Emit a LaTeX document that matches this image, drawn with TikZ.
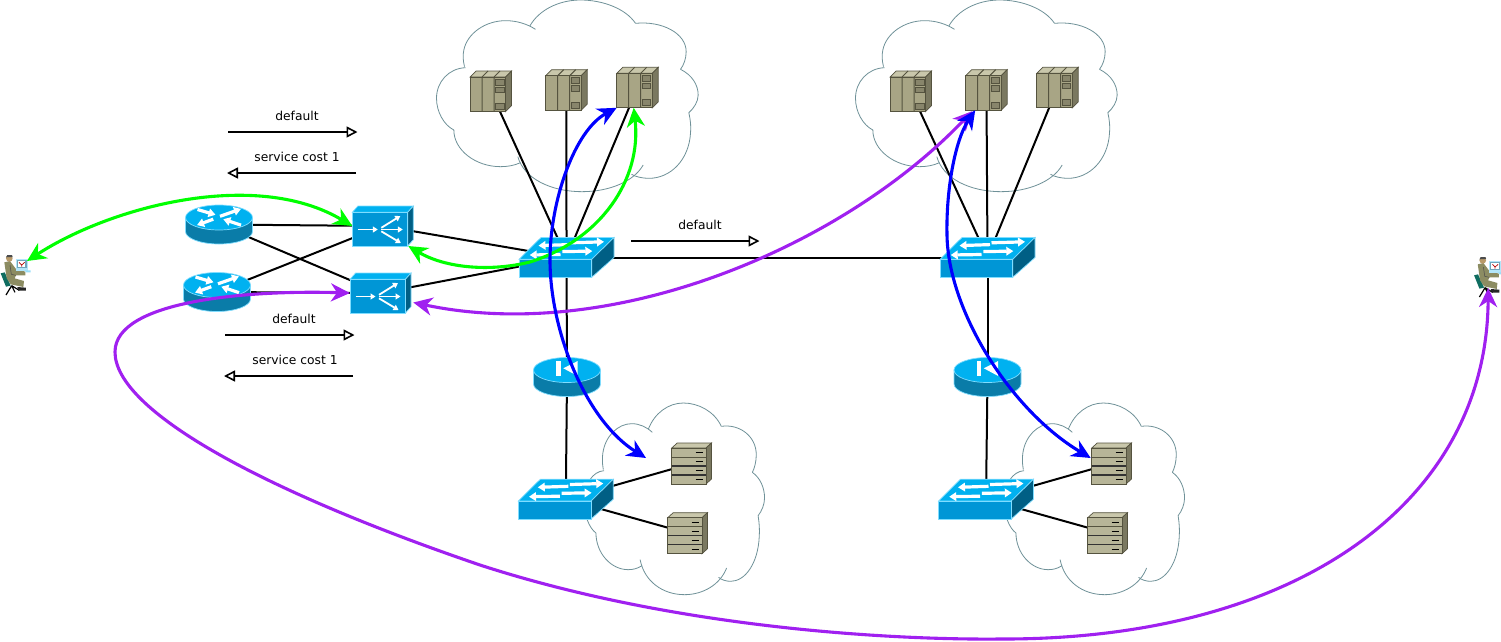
\documentclass[tikz,border=0pt]{standalone}
\usepackage{fontspec}
\setmainfont{DejaVu Sans}
\usetikzlibrary{arrows.meta}
\pgfdeclarelayer{cloudlayer}
\pgfdeclarelayer{linklayer}
\pgfdeclarelayer{curvelayer}
\pgfsetlayers{cloudlayer,linklayer,main,curvelayer}

\definecolor{cloudline}{HTML}{6F9198}
\definecolor{ciscotop}{HTML}{00B1F0}
\definecolor{ciscofront}{HTML}{0096D6}
\definecolor{ciscoside}{HTML}{005F85}
\definecolor{ciscobody}{HTML}{0A7CA8}
\definecolor{ciscorim}{HTML}{7FDDFF}
\definecolor{plcfront}{HTML}{A8A585}
\definecolor{plctop}{HTML}{C9C7AB}
\definecolor{plcside}{HTML}{7A7860}
\definecolor{plcline}{HTML}{55533F}
\definecolor{srvfront}{HTML}{B7B598}
\definecolor{coat}{HTML}{8C8C62}
\definecolor{skin}{HTML}{B89A6A}
\definecolor{chair}{HTML}{0F6D60}
\definecolor{trafficgreen}{HTML}{00FF00}
\definecolor{trafficblue}{HTML}{0000FF}
\definecolor{trafficpurple}{HTML}{A020F0}

\tikzset{
  iconbox/.style={inner sep=0pt,outer sep=0pt,draw=none},
  cloudstroke/.style={draw=cloudline,line width=0.8pt},
  link/.style={draw=black,line width=2pt},
  whitearrow/.style={white,line width=3.2pt,-{Triangle[length=7pt,width=8.5pt]}},
  thinwhitearrow/.style={white,line width=1.8pt,-{Triangle[length=5pt,width=6pt]}},
  legendarrow/.style={draw=black,line width=1.7pt,-{Triangle[open,fill=white,length=11pt,width=11pt,line width=1.6pt]}},
  trafficflow/.style={line width=3.1pt,{Stealth[length=19pt,width=18pt,inset=6pt]}-{Stealth[length=19pt,width=18pt,inset=6pt]}},
  caption/.style={inner sep=0pt,font=\fontsize{12.3}{14}\selectfont},
}

% one cloud outline; #1,#2 = left/top corner offset, #3 = horizontal factor
\newcommand{\cloudat}[3]{%
  \begin{scope}[shift={(#1,#2)},x=#3pt,y=-0.33333pt]
    \draw[cloudstroke] (280,78) .. controls (307,30) and (367,0) .. (432,0) .. controls (497,0) and (567,25) .. (597,70);
    \draw[cloudstroke] (597,70) .. controls (677,62) and (749,100) .. (749,155) .. controls (749,175) and (742,195) .. (732,208);
    \draw[cloudstroke] (732,208) .. controls (767,225) and (785,255) .. (785,285) .. controls (785,305) and (772,325) .. (757,338);
    \draw[cloudstroke] (757,338) .. controls (762,360) and (764,380) .. (762,400) .. controls (757,480) and (702,535) .. (637,535) .. controls (617,535) and (597,530) .. (585,523);
    \draw[cloudstroke] (620,495) .. controls (592,545) and (517,575) .. (437,575) .. controls (342,575) and (262,535) .. (244,470);
    \draw[cloudstroke] (252,488) .. controls (232,497) and (212,500) .. (192,500) .. controls (117,500) and (52,450) .. (52,390);
    \draw[cloudstroke] (52,390) .. controls (22,375) and (0,335) .. (0,295) .. controls (0,245) and (37,205) .. (87,203);
    \draw[cloudstroke] (84,200) .. controls (79,180) and (79,165) .. (82,150) .. controls (92,100) and (147,62) .. (207,62) .. controls (242,62) and (272,72) .. (297,88);
  \end{scope}}

% controller rack; #1 name, #2,#3 = top-left corner of the front face
\newcommand{\plcicon}[3]{%
  \node[iconbox,minimum width=41.5pt,minimum height=40.5pt] (#1) at ({#2+20.75},{#3+14.25}) {};
  \begin{scope}[shift={(#2,#3)},draw=plcline,line width=0.7pt]
    \filldraw[fill=plctop] (0,0) -- (6,-6) -- (41.5,-6) -- (35.5,0) -- cycle;
    \filldraw[fill=plcside] (35.5,0) -- (41.5,-6) -- (41.5,28.5) -- (35.5,34.5) -- cycle;
    \filldraw[fill=plcfront] (0,0) rectangle (35.5,34.5);
    \draw[line width=1pt] (12,0) -- (12,34.5) (24,0) -- (24,34.5) (12,0) -- (18,-6) (24,0) -- (30,-6);
    \filldraw[fill=plcside!70!plcfront] (25.5,2) rectangle (34,8);
    \filldraw[fill=plcside!70!plcfront] (25.5,10) rectangle (34,15.5);
    \filldraw[fill=plcside!70!plcfront] (25.5,26.5) rectangle (34,32.5);
  \end{scope}}

% server box; #1 name, #2,#3 = top-left corner of the front face
\newcommand{\servericon}[3]{%
  \node[iconbox,minimum width=39.8pt,minimum height=41pt] (#1) at ({#2+19.9},{#3+15.5}) {};
  \begin{scope}[shift={(#2,#3)},draw=plcline,line width=0.7pt]
    \filldraw[fill=plctop] (0,0) -- (5.5,-5) -- (39.8,-5) -- (34.3,0) -- cycle;
    \filldraw[fill=plcside] (34.3,0) -- (39.8,-5) -- (39.8,31) -- (34.3,36) -- cycle;
    \filldraw[fill=srvfront] (0,0) rectangle (34.3,36);
    \draw[line width=0.9pt] (0,9) -- (34.3,9);
    \draw[line width=1.1pt,black!80] (0,18) -- (34.3,18) (0,27) -- (34.3,27);
    \draw[line width=1.3pt,black] (24,4.5) -- (31.5,4.5) (24,13.5) -- (31.5,13.5) (24,22.5) -- (31.5,22.5) (24,31.5) -- (31.5,31.5);
  \end{scope}}

% round body shared by both router kinds; #1,#2 = centre of the top ellipse
\newcommand{\routerbody}[2]{%
  \filldraw[shift={(#1,#2)},fill=ciscobody,draw=ciscorim,line width=0.7pt]
    (-33.5,0) -- (-33.5,14) arc[start angle=180,end angle=360,x radius=33.5pt,y radius=12.5pt] -- (33.5,0) -- cycle;
  \filldraw[shift={(#1,#2)},fill=ciscotop,draw=ciscorim,line width=0.7pt]
    (0,0) ellipse[x radius=33.5pt,y radius=12.5pt];}

% router with crossing arrows
\newcommand{\routericon}[3]{%
  \node[iconbox,minimum width=67pt,minimum height=39pt] (#1) at (#2,{#3+7}) {};
  \routerbody{#2}{#3}
  \begin{scope}[shift={(#2,#3)}]
    \draw[whitearrow] (-21.5,-8) -- (-3.5,-2.7);
    \draw[whitearrow] (1,-1.2) -- (22,-8.6);
    \draw[whitearrow] (22,7.6) -- (4.3,1.7);
    \draw[whitearrow] (-5.7,1.7) -- (-22,7.6);
  \end{scope}}

% firewall-style router with bar and triangle
\newcommand{\gateicon}[3]{%
  \node[iconbox,minimum width=67pt,minimum height=39pt] (#1) at (#2,{#3+7}) {};
  \routerbody{#2}{#3}
  \begin{scope}[shift={(#2,#3)}]
    \fill[white] (-11,-9) rectangle (-6.3,6);
    \fill[white] (-3.7,-1.7) -- (10.7,-9) -- (10.7,6) -- cycle;
  \end{scope}}

% flat switch; #2,#3 = top-left corner of the front face
\newcommand{\switchicon}[3]{%
  \node[iconbox,minimum width=95pt,minimum height=40pt] (#1) at ({#2+47.5},{#3-1.8}) {};
  \begin{scope}[shift={(#2,#3)},draw=ciscorim,line width=0.7pt]
    \filldraw[fill=ciscotop] (0,0) -- (22,-21.8) -- (95,-21.8) -- (72.7,0) -- cycle;
    \filldraw[fill=ciscoside] (72.7,0) -- (95,-21.8) -- (95,-1.8) -- (72.7,18) -- cycle;
    \filldraw[fill=ciscofront] (0,0) rectangle (72.7,18);
    \draw[whitearrow] (50,-14.7) -- (19.5,-13.7);
    \draw[whitearrow] (51.5,-16.5) -- (85,-17.5);
    \draw[whitearrow] (41.5,-4.8) -- (10.7,-4.3);
    \draw[whitearrow] (43.3,-7.7) -- (73.3,-8.2);
  \end{scope}}

% box-shaped load balancer; #2,#3 = top-left corner of the front face
\newcommand{\balancericon}[3]{%
  \node[iconbox,minimum width=61pt,minimum height=40pt] (#1) at ({#2+30.5},{#3+13.7}) {};
  \begin{scope}[shift={(#2,#3)},draw=ciscorim,line width=0.7pt]
    \filldraw[fill=ciscotop] (0,0) -- (5.6,-6.3) -- (61,-6.3) -- (55.4,0) -- cycle;
    \filldraw[fill=ciscoside] (55.4,0) -- (61,-6.3) -- (61,27.4) -- (55.4,33.7) -- cycle;
    \filldraw[fill=ciscofront] (0,0) rectangle (55.4,33.7);
    \draw[thinwhitearrow] (5.5,17.2) -- (25.5,17.2);
    \draw[thinwhitearrow] (29,15.5) -- (48,3.7);
    \draw[thinwhitearrow] (29,17.2) -- (50.5,17.2);
    \draw[thinwhitearrow] (29,19) -- (48.5,30.7);
  \end{scope}}

% seated operator at a workstation; #1 name, #2,#3 = origin of the drawing
\newcommand{\operatoricon}[3]{%
  \node[iconbox,minimum width=28pt,minimum height=40pt] (#1) at ({#2+16},{#3+31}) {};
  \begin{scope}[shift={(#2,#3)},x=0.33333pt,y=-0.33333pt]
    \draw[black,line width=1.2pt] (35,122) -- (18,150) (35,122) -- (45,142) (35,122) -- (58,136);
    \fill[chair] (2,85) -- (14,82) -- (32,122) -- (18,125) -- cycle;
    \fill[black!85] (52,126) -- (78,128) -- (78,137) -- (55,137) -- cycle;
    \fill[coat] (13,52) -- (30,48) -- (48,72) -- (76,80) -- (76,91) -- (48,91) -- (44,100) -- (72,108) -- (70,126) -- (32,118) -- (20,100) -- cycle;
    \draw[black!70,line width=0.5pt] (30,60) -- (34,88) -- (48,91);
    \fill[skin] (28,40) circle[radius=10];
    \fill[black!70] (18,37) -- (22,30) -- (36,30) -- (38,36) -- (28,36) -- cycle;
    \fill[cyan!30] (47,42) rectangle (85,78);
    \fill[cyan!60!black!70] (50,45) rectangle (80,70);
    \fill[white] (54,49) rectangle (76,66);
    \draw[red!70!black,line width=0.7pt] (57,52) -- (65,60) -- (74,52) (65,60) -- (65,65);
    \fill[cyan!40] (74,76) -- (92,76) -- (92,82) -- (78,82) -- cycle;
  \end{scope}}

\begin{document}
\begin{tikzpicture}[x=1pt,y=-1pt]
  \useasboundingbox (0,0) rectangle (1501,641);
  \begin{pgfonlayer}{cloudlayer}
    \fill[white] (0,0) rectangle (1501,641);
    \cloudat{436.5}{0}{0.33333}
    \cloudat{855.5}{0}{0.33333}
    \cloudat{584}{403}{0.23}
    \cloudat{1004}{403}{0.23}
  \end{pgfonlayer}

  % left-hand routers and balancers
  \routericon{rtrA}{219}{217.5}
  \routericon{rtrB}{217}{285}
  \balancericon{lbA}{352.3}{212.3}
  \balancericon{lbB}{350}{279.3}

  % left site
  \switchicon{coreL}{519}{259.3}
  \plcicon{plcA}{470}{77}
  \plcicon{plcB}{545.7}{75.7}
  \plcicon{plcC}{616.7}{73.3}
  \gateicon{gateL}{567}{370}
  \switchicon{edgeL}{518.3}{501}
  \servericon{srvA}{671.7}{448}
  \servericon{srvB}{667.7}{517.7}

  % right site
  \switchicon{coreR}{940}{259.3}
  \plcicon{plcD}{890}{77}
  \plcicon{plcE}{965.7}{75.7}
  \plcicon{plcF}{1036.7}{73.3}
  \gateicon{gateR}{987.5}{370}
  \switchicon{edgeR}{938.5}{501}
  \servericon{srvC}{1091.7}{448}
  \servericon{srvD}{1087.7}{517.7}

  % operators
  \operatoricon{userL}{0}{245}
  \operatoricon{userR}{1473.4}{247}

  % physical links, hidden behind the icons
  \begin{pgfonlayer}{linklayer}
    \draw[link] (rtrA.center) -- (lbA.center);
    \draw[link] (rtrA.center) -- (lbB.center);
    \draw[link] (rtrB.center) -- (lbA.center);
    \draw[link] (rtrB.center) -- (lbB.center);
    \draw[link] (lbA.center) -- (coreL.center);
    \draw[link] (lbB.center) -- (coreL.center);
    \draw[link] (coreL.center) -- (coreR.center);
    \draw[link] (plcA.center) -- (coreL.center);
    \draw[link] (plcB.center) -- (coreL.center);
    \draw[link] (plcC.center) -- (coreL.center);
    \draw[link] (plcD.center) -- (coreR.center);
    \draw[link] (plcE.center) -- (coreR.center);
    \draw[link] (plcF.center) -- (coreR.center);
    \draw[link] (coreL.center) -- (gateL.center);
    \draw[link] (gateL.center) -- (edgeL.center);
    \draw[link] (coreR.center) -- (gateR.center);
    \draw[link] (gateR.center) -- (edgeR.center);
    \draw[link] (edgeL.center) -- (srvA.center);
    \draw[link] (edgeL.center) -- (srvB.center);
    \draw[link] (edgeR.center) -- (srvC.center);
    \draw[link] (edgeR.center) -- (srvD.center);
  \end{pgfonlayer}

  % path-cost legends
  \coordinate (legAs) at (228,132);  \coordinate (legAe) at (357.5,132);
  \coordinate (legBs) at (356,173);  \coordinate (legBe) at (227,173);
  \coordinate (legCs) at (225,335);  \coordinate (legCe) at (354.5,335);
  \coordinate (legDs) at (353,376);  \coordinate (legDe) at (224,376);
  \coordinate (legEs) at (631,241);  \coordinate (legEe) at (759.5,241);
  \draw[legendarrow] (legAs) -- (legAe);
  \draw[legendarrow] (legBs) -- (legBe);
  \draw[legendarrow] (legCs) -- (legCe);
  \draw[legendarrow] (legDs) -- (legDe);
  \draw[legendarrow] (legEs) -- (legEe);
  \node[caption] (capA) at (297,116) {default};
  \node[caption] (capB) at (297,157) {service cost 1};
  \node[caption] (capC) at (294,319) {default};
  \node[caption] (capD) at (295,360) {service cost 1};
  \node[caption] (capE) at (700,225) {default};

  % traffic flows
  \begin{pgfonlayer}{curvelayer}
    \draw[trafficflow,trafficgreen] ([shift={(-3pt,-5pt)}]userL.north east)
      .. controls (110,207) and (255,168) .. (lbA.west);
    \draw[trafficgreen,trafficflow] ([xshift=-5pt]lbA.south east)
      .. controls (445,268) and (490,272) .. (530,262)
      .. controls (600,240) and (642,180) .. ([xshift=17pt]plcC.south west);
    \draw[trafficflow,trafficpurple] ([shift={(2.3pt,-9.5pt)}]lbB.east)
      .. controls (615,345) and (845,245) .. ([shift={(6.5pt,-1pt)}]plcE.south west);
    \draw[trafficflow,trafficpurple] (lbB.west)
      .. controls (250,290) and (115,300) .. (115,352)
      .. controls (115,410) and (260,490) .. (480,565)
      .. controls (680,630) and (900,640) .. (1000,639)
      .. controls (1300,640) and (1487,500) .. ([shift={(-1.2pt,10pt)}]userR.south);
    \draw[trafficflow,trafficblue] (plcC.south west)
      .. controls (575,130) and (550,200) .. (550,260)
      .. controls (550,330) and (585,420) .. ([shift={(-25.7pt,5.5pt)}]srvA.west);
    \draw[trafficflow,trafficblue] ([xshift=9.5pt]plcE.south west)
      .. controls (955,140) and (946,190) .. (947,235)
      .. controls (948,310) and (1010,410) .. ([shift={(-1pt,5.5pt)}]srvC.west);
  \end{pgfonlayer}
\end{tikzpicture}
\end{document}
